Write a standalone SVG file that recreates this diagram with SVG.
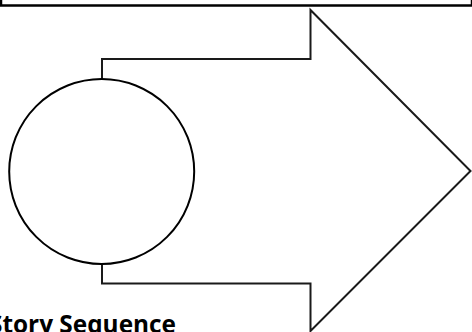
<svg xmlns="http://www.w3.org/2000/svg" width="472" height="332" viewBox="0 0 472 332">
<style>
.ln{fill:none;stroke:#1a1a1a;stroke-width:2;stroke-linejoin:miter}
.title{font-family:"Open Sans","Liberation Sans",sans-serif;font-weight:bold;font-size:25px;fill:#000}
</style>
<rect width="472" height="332" fill="#fff"/>
<g id="top-box">
<rect x="1" y="-10" width="471" height="15.5" fill="none" stroke="#000" stroke-width="2.5"/>
</g>
<g id="arrow">
<polygon class="ln" fill="#fff" points="102,59 310.5,59 310.5,10 470.5,171 310.5,331 310.5,283.5 102,283.5" style="fill:#fff"/>
</g>
<g id="circle">
<circle cx="101.7" cy="171.5" r="92.5" fill="#fff" stroke="#000" stroke-width="2"/>
</g>
<g id="label">
<text class="title" x="-11" y="333" textLength="187" lengthAdjust="spacingAndGlyphs">Story Sequence</text>
</g>
</svg>
